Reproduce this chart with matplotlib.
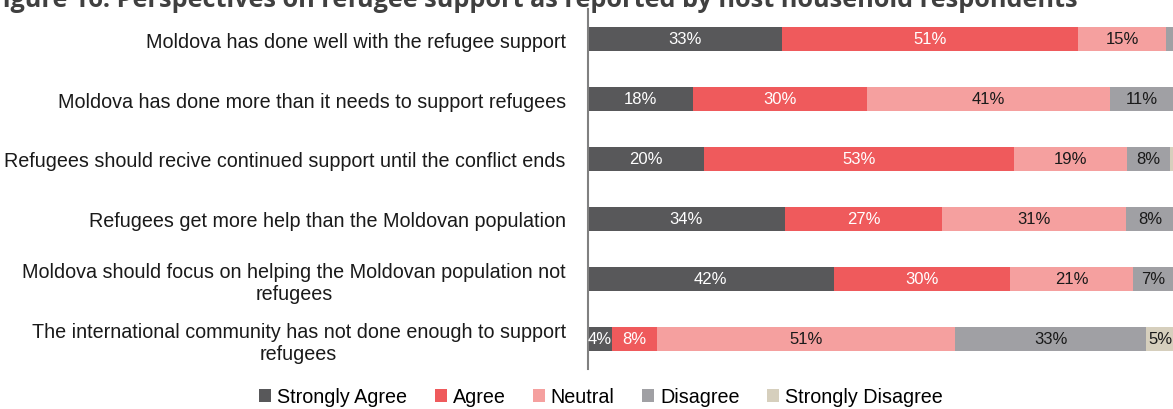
import matplotlib
matplotlib.use("Agg")
import matplotlib.pyplot as plt
import numpy as np

plt.rcParams['font.family'] = ['Liberation Sans', 'DejaVu Sans']

statements = [
    "Moldova has done well with the refugee support",
    "Moldova has done more than it needs to support refugees",
    "Refugees should recive continued support until the conflict ends",
    "Refugees get more help than the Moldovan population",
    "Moldova should focus on helping the Moldovan population not\nrefugees",
    "The international community has not done enough to support\nrefugees",
]
responses = ["Strongly Agree", "Agree", "Neutral", "Disagree", "Strongly Disagree"]

# percent per statement
strongly_agree = [33.1, 17.9, 19.8, 33.6, 41.9, 4.1]
agree = [50.6, 29.7, 52.9, 26.8, 30.1, 7.6]
neutral = [14.9, 41.4, 19.2, 31.4, 21.0, 50.9]
disagree = [1.4, 11.0, 7.5, 8.2, 7.0, 32.7]
strongly_disagree = [0.0, 0.0, 0.6, 0.0, 0.0, 4.8]

series = [strongly_agree, agree, neutral, disagree, strongly_disagree]
colors = ["#58585a", "#ef5a5c", "#f5a09f", "#a0a0a4", "#d6cfbd"]
text_colors = ["white", "white", "#1a1a1a", "#1a1a1a", "#1a1a1a"]

fig = plt.figure(figsize=(11.73, 4.10), dpi=100)
ax = fig.add_axes([588/1173, 40/410, 586/1173, 360/410])

y = np.arange(len(statements))
left = np.zeros(len(statements))
for vals, col, tc, name in zip(series, colors, text_colors, responses):
    vals = np.array(vals)
    ax.barh(y, vals, left=left, height=0.4, color=col, label=name)
    for yi, l, v in zip(y, left, vals):
        if v >= 3:
            ax.text(l + v/2, yi, f"{round(v)}%", ha='center', va='center',
                    color=tc, fontsize=12)
    left += vals

ax.set_xlim(0, 100)
ax.set_ylim(5.5, -0.5)
ax.set_yticks(y)
ax.set_yticklabels(statements, fontsize=14.2, color="#1a1a1a", multialignment='center')
ax.tick_params(axis='y', length=0, pad=16)
ax.set_xticks([])
for s in ['top', 'right', 'bottom']:
    ax.spines[s].set_visible(False)
ax.spines['left'].set_color('#808080')
ax.spines['left'].set_linewidth(1.5)

fig.text(-11/1173, 1 - 7/410, "Figure 16: Perspectives on refugee support as reported by host household respondents",
         fontsize=18.2, fontweight='bold', color='#404040', family=['Open Sans', 'DejaVu Sans'],
         ha='left', va='baseline')

handles, labels = ax.get_legend_handles_labels()
fig.legend(handles, labels, loc='center', bbox_to_anchor=(601/1173, 1 - 398/410), ncol=5,
           frameon=False, fontsize=14.2, handlelength=0.6, handleheight=0.6,
           handletextpad=0.3, columnspacing=1.4)

fig.savefig("out.png", dpi=100)
